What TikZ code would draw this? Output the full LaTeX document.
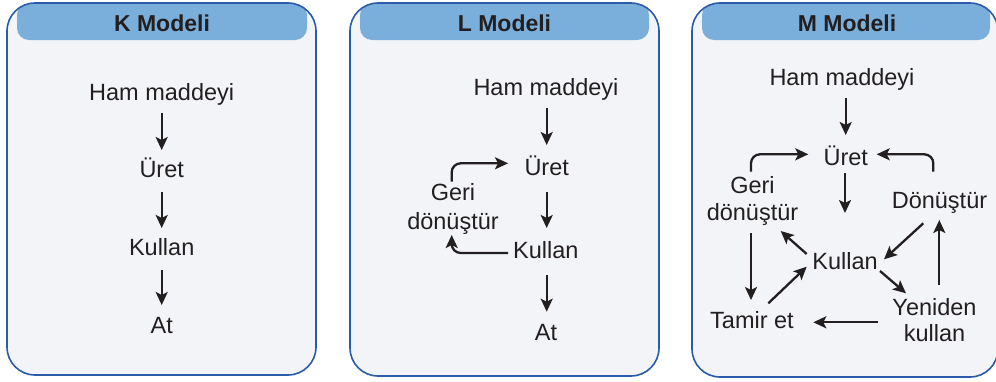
\documentclass[tikz,border=0pt]{standalone}
\usepackage{fontspec}
\setmainfont{Liberation Sans}
\usetikzlibrary{arrows.meta,calc}
\definecolor{panelfill}{RGB}{243,244,247}
\definecolor{panelline}{RGB}{42,92,170}
\definecolor{headfill}{RGB}{122,174,219}
\definecolor{ink}{RGB}{35,31,32}
\newcommand\twoline[3]{\vtop{\baselineskip=#3\lineskiplimit=-20pt\halign{\hfil##\hfil\cr #1\cr #2\cr}}}
\begin{document}
\begin{tikzpicture}[x=1pt,y=-1pt,
  lbl/.style={font=\fontsize{23.5}{27}\selectfont, text=ink, inner sep=0pt, anchor=base},
  head/.style={font=\fontsize{23}{27}\selectfont\bfseries, text=ink, inner sep=0pt, anchor=base},
  arr/.style={-{Stealth[length=13pt,width=12pt,inset=3pt]}, line width=2.3pt, draw=ink},
  roundbend/.style={rounded corners=9pt},
  panelbg/.style={fill=panelfill, rounded corners=28pt},
  panelborder/.style={draw=panelline, line width=1.6pt, rounded corners=28pt},
  headbar/.style={fill=headfill, rounded corners=12pt}]
\useasboundingbox (0,0) rectangle (996,381);

% ---------- panels ----------
\foreach \xa/\xb/\ha/\hb/\yb in {7/316/17/307/375, 350/659/360/649/376, 692/998/702/990/377}{
  \path[panelbg] (\xa,3) rectangle (\xb,\yb);
  \begin{scope}
    \clip[rounded corners=28pt] (\xa,3) rectangle (\xb,\yb);
    \path[headbar] (\ha,3) rectangle (\hb,40);
  \end{scope}
  \path[panelborder] (\xa,3) rectangle (\xb,\yb);
}

% ---------- headers ----------
\node[head] (hk) at (162,31.5) {K Modeli};
\node[head] (hl) at (504.5,31.5) {L Modeli};
\node[head] (hm) at (847,31.5) {M Modeli};

% ---------- K model ----------
\node[lbl] (kham) at (161.7,100) {Ham maddeyi};
\node[lbl] (kuret) at (161.7,177.7) {Üret};
\node[lbl] (kkul) at (161.7,255.7) {Kullan};
\node[lbl] (kat) at (161.7,333) {At};
\draw[arr] ($(kham.base)+(0,13)$) -- ($(kuret.base)+(0,-27.7)$);
\draw[arr] ($(kuret.base)+(0,14.3)$) -- ($(kkul.base)+(0,-27.7)$);
\draw[arr] ($(kkul.base)+(0,14.3)$) -- ($(kat.base)+(0,-28)$);

% ---------- L model ----------
\node[lbl] (lham) at (546,95) {Ham maddeyi};
\node[lbl] (luret) at (546.7,175) {Üret};
\node[lbl] (lkul) at (545.8,258.3) {Kullan};
\node[lbl] (lat) at (546,340) {At};
\node[lbl] (lgeri) at (453,200) {\twoline{Geri}{dönüştür}{29pt}};
\draw[arr] ($(lham.base)+(0.7,13)$) -- ($(luret.base)+(0,-30)$);
\draw[arr] ($(luret.base)+(0,16.7)$) -- ($(lkul.base)+(0.9,-30.3)$);
\draw[arr] ($(lkul.base)+(0.9,16.7)$) -- ($(lat.base)+(0.7,-28.3)$);
\draw[arr,roundbend] ($(lgeri.base)+(-1.3,-18.3)$) |- ($(luret.base)+(-38.7,-11.7)$);
\draw[arr,roundbend] ($(lkul.base)+(-37.8,-5.3)$) -| ($(lgeri.base)+(-1.3,35)$);

% ---------- M model ----------
\node[lbl] (mham) at (842,85) {Ham maddeyi};
\node[lbl] (muret) at (845.8,165) {Üret};
\node[lbl] (mgeri) at (752.5,193.3) {\twoline{Geri}{dönüştür}{27pt}};
\node[lbl] (mdon) at (939.5,208.3) {Dönüştür};
\node[lbl] (mkul) at (845,269.3) {Kullan};
\node[lbl] (myen) at (934.5,315) {\twoline{Yeniden}{kullan}{26.7pt}};
\node[lbl] (mtam) at (752,328.3) {Tamir et};

\draw[arr] ($(mham.base)+(3.7,13)$) -- ($(muret.base)+(-0.1,-30)$);
\draw[arr] ($(muret.base)+(-0.8,8)$) -- ($(mkul.base)+(0,-56.3)$);
\draw[arr,roundbend] ($(mgeri.base)+(-1.5,-21.6)$) |- ($(muret.base)+(-37.5,-10.7)$);
\draw[arr,roundbend] ($(mdon.base)+(-6.2,-36.6)$) |- ($(muret.base)+(30.9,-10.7)$);
\draw[arr] ($(mgeri.base)+(-1.5,40)$) -- ($(mtam.base)+(-1,-28.3)$);
\draw[arr] ($(mtam.base)+(16.3,-25)$) -- ($(mkul.base)+(-38.3,-2.6)$);
\draw[arr] ($(mkul.base)+(-38.3,-15.3)$) -- ($(mgeri.base)+(28.2,37.7)$);
\draw[arr] ($(mdon.base)+(-16.2,15)$) -- ($(mkul.base)+(39,-10)$);
\draw[arr] ($(mkul.base)+(35,1.7)$) -- ($(myen.base)+(-28.5,-21.7)$);
\draw[arr] ($(myen.base)+(4.8,-30)$) -- ($(mdon.base)+(-0.2,11.7)$);
\draw[arr] ($(myen.base)+(-56.2,7.3)$) -- ($(mtam.base)+(61.3,-6)$);
\end{tikzpicture}
\end{document}
